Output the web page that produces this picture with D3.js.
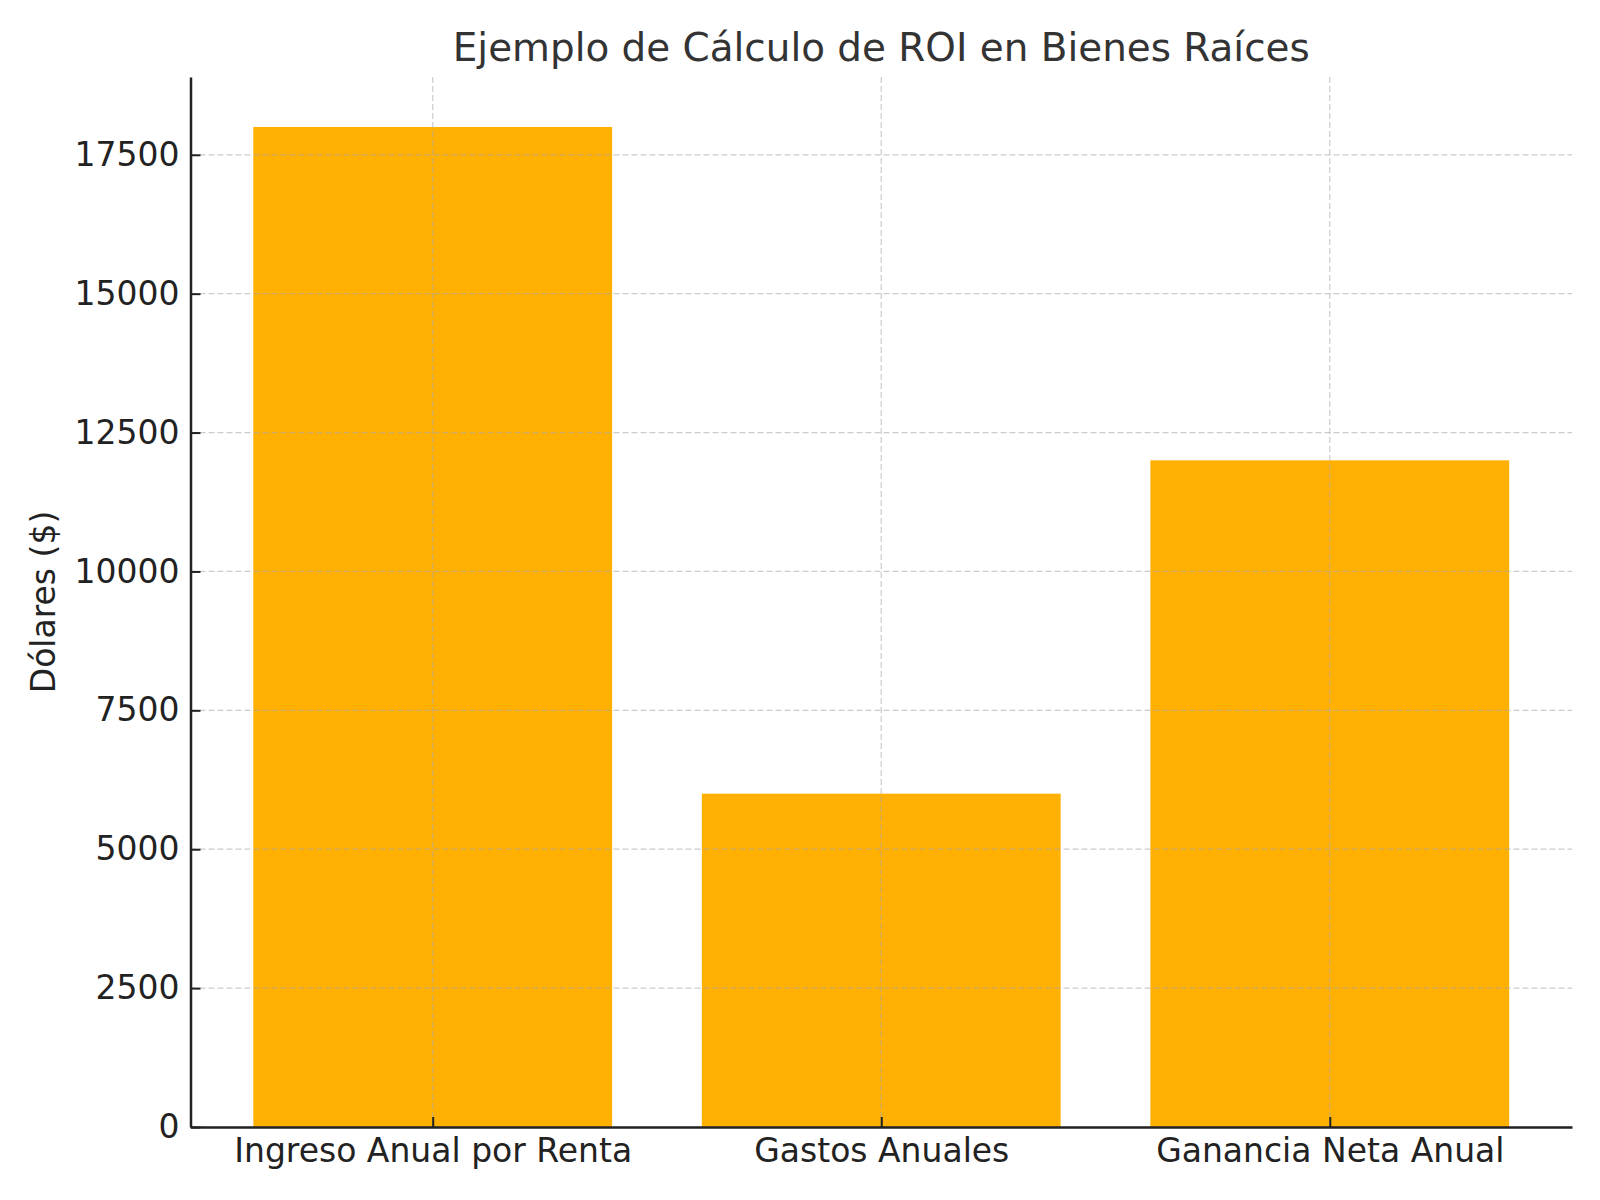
<!DOCTYPE html>
<html>
<head>
<meta charset="utf-8">
<script src="https://cdn.jsdelivr.net/npm/d3@7"></script>
<style>
  body { margin: 0; background: #fff; }
  text { font-family: "DejaVu Sans", sans-serif; }
</style>
</head>
<body>
<div id="chart"></div>
<script>
// data
var categories = ["Ingreso Anual por Renta", "Gastos Anuales", "Ganancia Neta Anual"];
var values = [18000, 6000, 12000];
var yTicks = [0, 2500, 5000, 7500, 10000, 12500, 15000, 17500];

var W = 1600, H = 1200;
var margin = {top: 77, right: 28, bottom: 73, left: 190.5};
var w = W - margin.left - margin.right,
    h = H - margin.top - margin.bottom;

var svg = d3.select("#chart").append("svg")
  .attr("width", W).attr("height", H);

var g = svg.append("g")
  .attr("transform", "translate(" + margin.left + "," + margin.top + ")");

// matplotlib style: bars at 0..n-1, width 0.8, 5% margins
var x = d3.scaleLinear().domain([-0.54, categories.length - 1 + 0.54]).range([0, w]);
var y = d3.scaleLinear().domain([0, d3.max(values) * 1.05]).range([h, 0]);

// bars
g.selectAll("rect.bar")
  .data(values)
  .enter().append("rect")
  .attr("class", "bar")
  .attr("x", function(d, i) { return x(i - 0.4); })
  .attr("width", function(d, i) { return x(i + 0.4) - x(i - 0.4); })
  .attr("y", function(d) { return y(d); })
  .attr("height", function(d) { return h - y(d); })
  .style("fill", "#ffb000");

// grid, drawn over the bars
var grid = g.append("g")
  .style("stroke", "#aaa")
  .style("stroke-opacity", 0.6)
  .style("stroke-width", 1.2)
  .style("stroke-dasharray", "6,3");

grid.selectAll("line.hg")
  .data(yTicks)
  .enter().append("line")
  .attr("x1", 0).attr("x2", w)
  .attr("y1", function(d) { return y(d); })
  .attr("y2", function(d) { return y(d); });

grid.selectAll("line.vg")
  .data(categories)
  .enter().append("line")
  .attr("y1", 0).attr("y2", h)
  .attr("x1", function(d, i) { return x(i); })
  .attr("x2", function(d, i) { return x(i); });

// axes, ticks pointing inward
var yAxis = d3.axisLeft(y).tickValues(yTicks).tickFormat(d3.format("d"))
  .tickSizeInner(-10).tickSizeOuter(0).tickPadding(11);
var xAxis = d3.axisBottom(x).tickValues(d3.range(categories.length))
  .tickFormat(function(i) { return categories[i]; })
  .tickSizeInner(-10).tickSizeOuter(0).tickPadding(12);

var ya = g.append("g").call(yAxis);
var xa = g.append("g").attr("transform", "translate(0," + h + ")").call(xAxis);

[ya, xa].forEach(function(a) {
  a.select(".domain").style("stroke", "#222").style("stroke-width", 2.5);
  a.selectAll(".tick line").style("stroke", "#222").style("stroke-width", 2);
  a.selectAll(".tick text")
    .style("font-family", "DejaVu Sans")
    .style("font-size", "33px")
    .style("fill", "#222");
});

// y label
svg.append("text")
  .attr("transform", "translate(55," + (margin.top + h / 2) + ") rotate(-90)")
  .attr("text-anchor", "middle")
  .style("font-size", "33px")
  .style("fill", "#222")
  .text("Dólares ($)");

// title
svg.append("text")
  .attr("x", margin.left + w / 2)
  .attr("y", 60.5)
  .attr("text-anchor", "middle")
  .style("font-size", "38.9px")
  .style("fill", "#333")
  .text("Ejemplo de Cálculo de ROI en Bienes Raíces");
</script>
</body>
</html>
